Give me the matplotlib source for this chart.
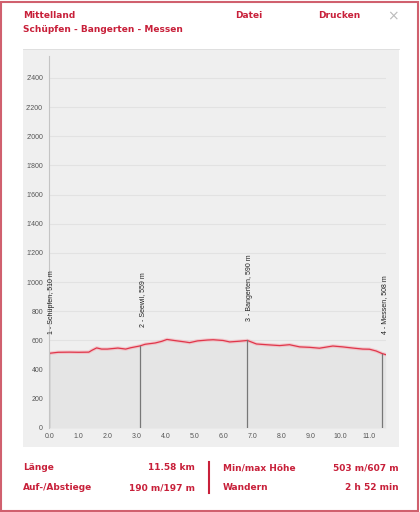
import numpy as np
import matplotlib
matplotlib.use("Agg")
import matplotlib.pyplot as plt
from matplotlib.patches import Rectangle
from matplotlib.ticker import FuncFormatter, MultipleLocator

# profile data (km, m)
dist_km = [0, 0.3, 0.7, 1.0, 1.36, 1.47, 1.63, 1.8, 2.0, 2.36, 2.63, 2.8, 3.11, 3.3,
           3.65, 3.87, 4.05, 4.33, 4.67, 4.83, 5.1, 5.44, 5.64, 5.98, 6.21, 6.55, 6.82,
           7.13, 7.47, 7.93, 8.27, 8.62, 8.96, 9.30, 9.76, 10.1, 10.45, 10.79, 11.02,
           11.25, 11.46, 11.58]
elev_m = [512, 519, 520, 519, 520, 533, 549, 541, 541, 548, 541, 550, 562, 574,
          583, 594, 607, 599, 590, 585, 597, 603, 605, 600, 590, 595, 600,
          576, 571, 565, 571, 556, 553, 547, 562, 556, 548, 541, 540,
          528, 510, 503]

stop_km = [0, 3.11, 6.82, 11.46]
stop_names = ["1 - Schüpfen, 510 m", "2 - Seewil, 559 m", "3 - Bangerten, 590 m", "4 - Messen, 508 m"]

title = "Mittelland"
route = "Schüpfen - Bangerten - Messen"
stats_left = [("Länge", "11.58 km"), ("Auf-/Abstiege", "190 m/197 m")]
stats_right = [("Min/max Höhe", "503 m/607 m"), ("Wandern", "2 h 52 min")]

W, H = 420, 512
RED = "#c8203a"
def fx(x): return x / W
def fy(y): return 1 - y / H

fig = plt.figure(figsize=(W / 100, H / 100), dpi=100)
fig.patches.append(Rectangle((0.002, 0.002), 0.994, 0.995, transform=fig.transFigure,
                             fill=False, edgecolor="#d0606e", lw=1.5))
fig.patches.append(Rectangle((fx(22.7), fy(447)), fx(399 - 22.7), (447 - 49) / H,
                             transform=fig.transFigure, facecolor="#efefef",
                             edgecolor="none", zorder=-5))
fig.lines.append(plt.Line2D([fx(22.7), fx(399)], [fy(49), fy(49)], transform=fig.transFigure,
                            color="#dddddd", lw=0.6, zorder=-4))

ax = fig.add_axes([fx(49.3), fy(428), fx(385.7 - 49.3), (428 - 56) / H])
ax.set_facecolor("#efefef")
ax.set_xlim(0, 11.58)
ax.set_ylim(0, 2550)

ax.fill_between(dist_km, elev_m, 0, color="#e5e5e5", lw=0)
ax.plot(dist_km, elev_m, color="#f4b0b8", lw=2.5, alpha=0.6, solid_capstyle="round")
ax.plot(dist_km, elev_m, color="#e0364a", lw=0.9)

for k, name in zip(stop_km, stop_names):
    h = np.interp(k, dist_km, elev_m)
    ax.plot([k, k], [0, h], color="#777777", lw=0.9)
    ax.annotate(name, (k, h), xytext=(1.8, 14), textcoords="offset points",
                rotation=90, ha="center", va="bottom", fontsize=5,
                family="Liberation Sans", color="#222222")

ax.set_yticks(np.arange(0, 2401, 200))
ax.xaxis.set_major_locator(MultipleLocator(1.0))
ax.yaxis.set_major_formatter(FuncFormatter(lambda v, p: f"{int(v):,}".replace(",", "'")))
ax.xaxis.set_major_formatter(FuncFormatter(lambda v, p: f"{v:.1f}"))
ax.grid(axis="y", color="#e2e2e2", lw=0.8)
ax.set_axisbelow(True)
ax.tick_params(length=0, labelsize=5, labelcolor="#555555")
ax.tick_params(axis="y", pad=4.5)
ax.tick_params(axis="x", pad=3.5)
for lab in ax.get_xticklabels() + ax.get_yticklabels():
    lab.set_family("Liberation Sans")
for s in ["top", "right", "bottom"]:
    ax.spines[s].set_visible(False)
ax.spines["left"].set_color("#c4c4c4")
ax.spines["left"].set_linewidth(0.8)

# header
hdr = dict(color=RED, fontsize=6.5, fontweight="bold", family="DejaVu Sans", va="center")
fig.text(fx(22.7), fy(16), title, ha="left", **hdr)
fig.text(fx(22.7), fy(30), route, ha="left", **hdr)
fig.text(fx(235), fy(16), "Datei", ha="left", **hdr)
fig.text(fx(318), fy(16), "Drucken", ha="left", **hdr)
fig.text(fx(393), fy(16), "×", ha="center", va="center", color="#bbbbbb", fontsize=10)

# footer stats
for i, ((l1, v1), (l2, v2)) in enumerate(zip(stats_left, stats_right)):
    y = fy(468 + 20 * i)
    fig.text(fx(22.7), y, l1, ha="left", **hdr)
    fig.text(fx(195), y, v1, ha="right", **hdr)
    fig.text(fx(223), y, l2, ha="left", **hdr)
    fig.text(fx(399), y, v2, ha="right", **hdr)
fig.lines.append(plt.Line2D([fx(209), fx(209)], [fy(462), fy(493)], transform=fig.transFigure,
                            color=RED, lw=1.5))

fig.savefig("out.png", dpi=100)
